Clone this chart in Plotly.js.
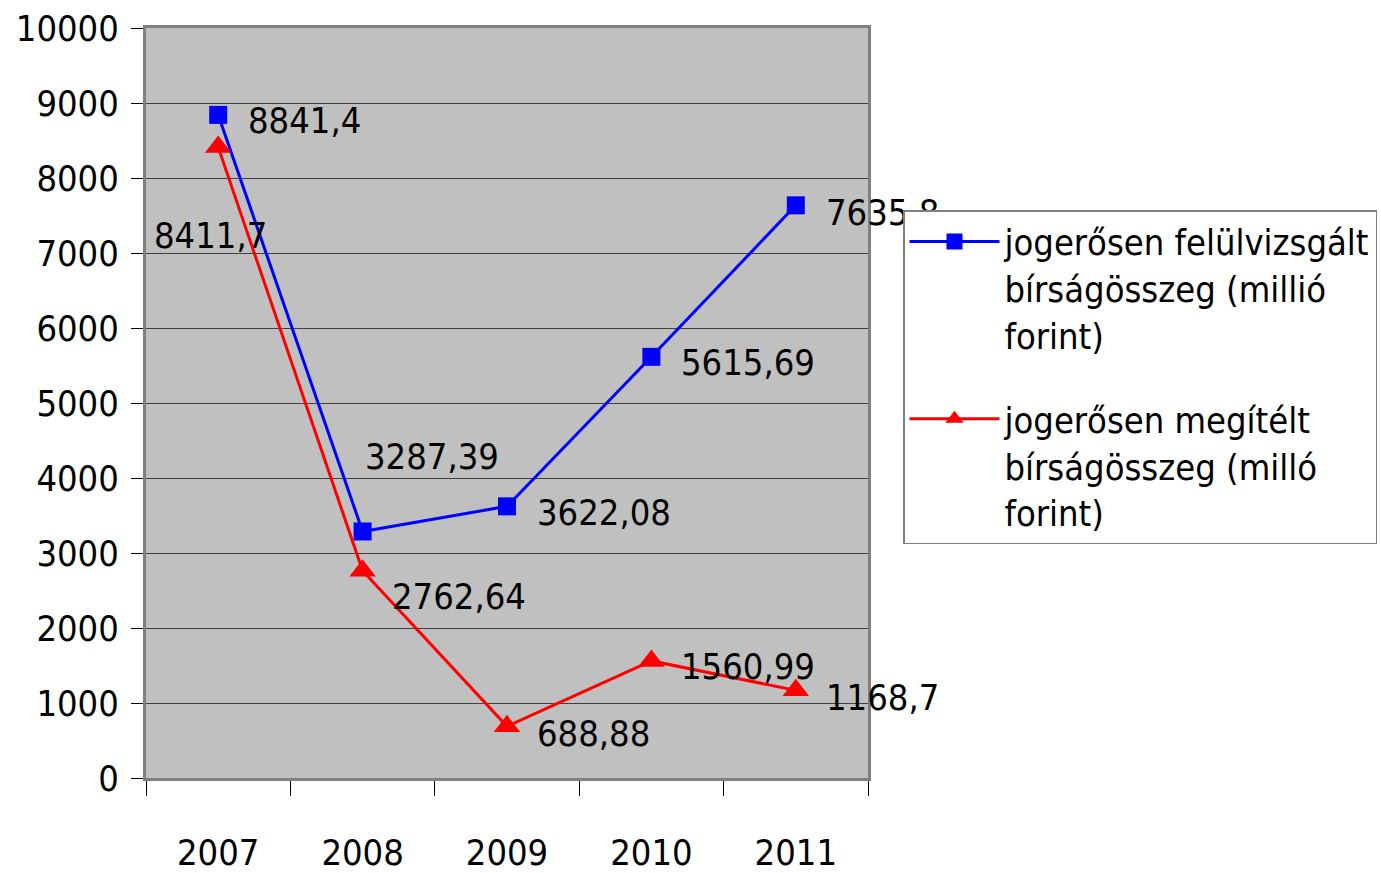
<!DOCTYPE html>
<html>
<head>
<meta charset="utf-8">
<script src="https://cdn.plot.ly/plotly-3.0.1.min.js"></script>
<style>html,body{margin:0;padding:0;background:#fff;}#chart{width:1381px;height:873px;}</style>
</head>
<body>
<div id="chart"></div>
<script>
const years = ['2007', '2008', '2009', '2010', '2011'];
const reviewed = [8841.4, 3287.39, 3622.08, 5615.69, 7635.8];
const awarded = [8411.7, 2762.64, 688.88, 1560.99, 1168.7];
const nameReviewed = 'jogerősen felülvizsgált<br>bírságösszeg (millió<br>forint)';
const nameAwarded = 'jogerősen megítélt<br>bírságösszeg (milló<br>forint)';

// label placement (pixel offsets), styling only
const offReviewed = [[28, -6, 'left'], [0, 75, 'left'], [28, -6, 'left'], [28, -6, 'left'], [28, -7, 'left']];
const offAwarded = [[-8, -88, 'center'], [27, -26, 'left'], [28, -7, 'left'], [28, -6, 'left'], [28, -7, 'left']];

const FONT = '"DejaVu Sans Condensed", "Liberation Sans Narrow", sans-serif';
const FS = 36;
const fmt = v => String(v).replace('.', ',');

const traces = [
  {
    x: years, y: reviewed, name: nameReviewed, legendgroup: 'a', type: 'scatter', mode: 'lines+markers',
    line: {color: '#0000FF', width: 3},
    marker: {symbol: 'square', size: 18, color: '#0000FF'},
    cliponaxis: false
  },
  {
    x: years, y: awarded, name: nameAwarded, legendgroup: 'b', type: 'scatter', mode: 'lines+markers',
    line: {color: '#FF0000', width: 3},
    marker: {symbol: 'triangle-up', size: 23, color: '#FF0000'},
    cliponaxis: false
  }
];

const annotations = [];
function addLabels(vals, offs) {
  vals.forEach((v, i) => {
    annotations.push({
      x: i, y: v, xref: 'x', yref: 'y', text: fmt(v), showarrow: false,
      xanchor: offs[i][2], yanchor: 'middle', xshift: offs[i][0], yshift: offs[i][1],
      font: {family: FONT, size: FS, color: '#000'}
    });
  });
}
addLabels(reviewed, offReviewed);
addLabels(awarded, offAwarded);

const layout = {
  width: 1381, height: 873,
  margin: {l: 146, r: 513, t: 28, b: 95, pad: 0},
  paper_bgcolor: '#FFFFFF', plot_bgcolor: '#C0C0C0',
  font: {family: FONT, size: FS, color: '#000'},
  showlegend: true,
  legend: {
    xref: 'container', yref: 'container',
    x: 903 / 1381, y: 1 - 210 / 873, xanchor: 'left', yanchor: 'top',
    bgcolor: '#FFFFFF', bordercolor: '#808080', borderwidth: 1.5,
    font: {family: FONT, size: FS, color: '#000'},
    itemwidth: 90, tracegroupgap: 34, valign: 'top'
  },
  xaxis: {
    type: 'category', range: [-0.5, 4.5], tickson: 'boundaries', ticks: 'outside', ticklen: 15, tickwidth: 1, tickcolor: '#000',
    showgrid: false, showline: true, linecolor: '#808080', linewidth: 3, mirror: true,
    ticklabelstandoff: 41, tickfont: {family: FONT, size: FS, color: '#000'}, zeroline: false
  },
  yaxis: {
    range: [0, 10000], dtick: 1000, tickformat: 'd', ticks: 'outside', ticklen: 12, tickwidth: 1, tickcolor: '#000',
    showgrid: true, gridcolor: '#404040', gridwidth: 1,
    showline: true, linecolor: '#808080', linewidth: 3, mirror: true, zeroline: false,
    ticklabelstandoff: 5, tickfont: {family: FONT, size: FS, color: '#000'}
  },
  annotations: annotations
};

Plotly.newPlot('chart', traces, layout, {displayModeBar: false, staticPlot: true}).then(gd => {
  // draw the legend box above the data labels, as in the reference
  const leg = gd.querySelector('g.legend');
  if (leg && leg.parentNode) leg.parentNode.appendChild(leg);
});
</script>
</body>
</html>
